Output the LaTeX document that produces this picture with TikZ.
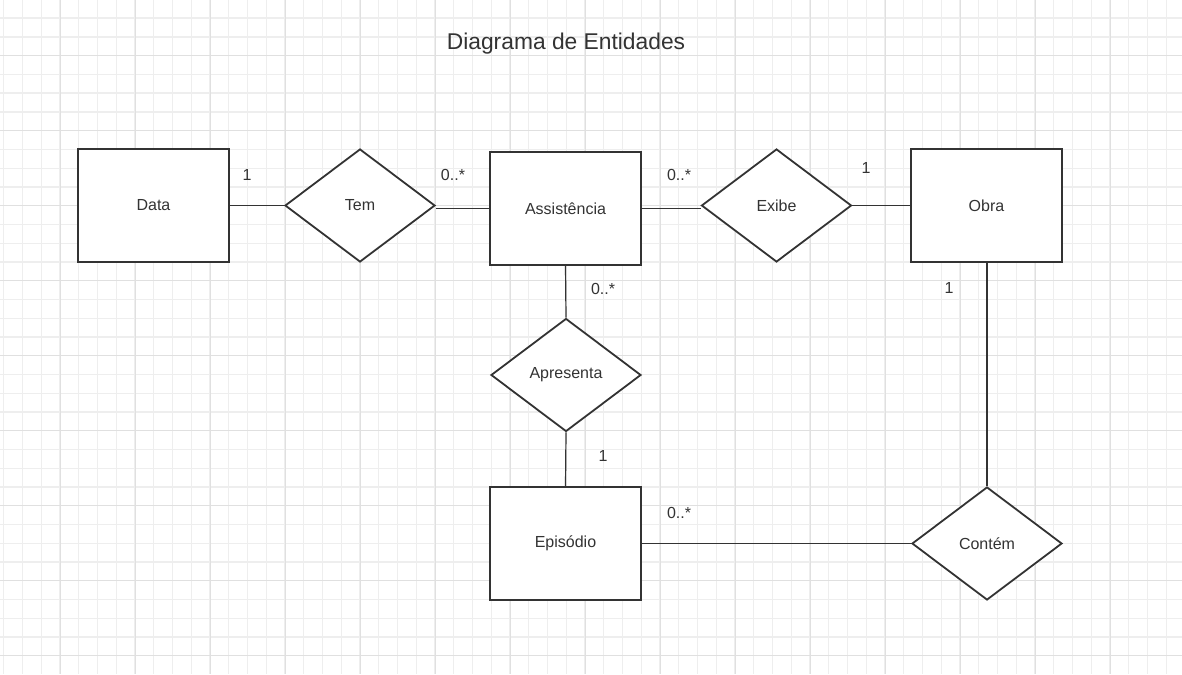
\documentclass[tikz,border=0pt]{standalone}
\usepackage{fontspec}
\setmainfont{Liberation Sans}
\usepackage{tikz}
\usetikzlibrary{shapes.geometric}

\definecolor{inkgray}{HTML}{333333}
\definecolor{gridminor}{HTML}{EEEEEE}
\definecolor{gridmajor}{HTML}{E0E0E0}

\tikzset{
  entity/.style={draw=inkgray, line width=1.8pt, fill=white, minimum width=151pt,
    minimum height=113pt, inner sep=0pt, text=inkgray, font=\fontsize{16}{18}\selectfont},
  relation/.style={diamond, draw=inkgray, line width=1.8pt, fill=white, minimum width=150pt,
    minimum height=113pt, inner sep=0pt, text=inkgray, font=\fontsize{16}{18}\selectfont},
  link/.style={draw=inkgray, line width=1.2pt},
  mult/.style={text=inkgray, inner sep=0pt, font=\fontsize{16}{18}\selectfont}
}

\begin{document}
\begin{tikzpicture}[x=1pt, y=-1pt]
  \useasboundingbox (0,0) rectangle (1182,674);
  \fill[white] (0,0) rectangle (1182,674);

  % Background grid
  \foreach \gx in {3.75,22.5,...,1182}
    \draw[gridminor, line width=1.4pt] (\gx,0) -- (\gx,674);
  \foreach \gy in {18.2,36.95,...,674}
    \draw[gridminor, line width=1.4pt] (0,\gy) -- (1182,\gy);
  \foreach \gx in {60,135,...,1182}
    \draw[gridmajor, line width=1pt] (\gx,0) -- (\gx,674);
  \foreach \gy in {55.7,130.7,...,674}
    \draw[gridmajor, line width=1pt] (0,\gy) -- (1182,\gy);

  % Title
  \node[text=inkgray, font=\fontsize{22.8}{26}\selectfont] (title) at (566,44) {Diagrama de Entidades};

  % Entities
  \node[entity] (data) at (153.5,205.5) {Data};
  \node[entity] (assist) at (565.5,208.5) {Assistência};
  \node[entity] (obra) at (986.5,205.5) {Obra};
  \node[entity] (ep) at (565.5,543.5) {Episódio};

  % Relationships
  \node[relation] (tem) at (360,205.5) {Tem};
  \node[relation] (exibe) at (776.5,205.5) {Exibe};
  \node[relation] (apres) at (566,375) {Apresenta};
  \node[relation] (contem) at (987,543.5) {Contém};

  % Connectors
  \draw[link] (data.east) -- (tem.west);
  \draw[link] (tem.east |- assist.west) -- (assist.west);
  \draw[link] (assist.east) -- (assist.east -| exibe.west);
  \draw[link] (exibe.east) -- (obra.west);
  \draw[link] (assist.south) -- (apres.north);
  \draw[link] (apres.south) -- (ep.north);
  \draw[link] (ep.east) -- (ep.east -| contem.west);
  \draw[link] (obra.south -| contem.north) -- (contem.north);

  % Multiplicities
  \node[mult] (m1) at (247,175) {1};
  \node[mult] (m2) at (453,175) {0..*};
  \node[mult] (m3) at (679,175) {0..*};
  \node[mult] (m4) at (866,168) {1};
  \node[mult] (m5) at (603,289) {0..*};
  \node[mult] (m6) at (949,288) {1};
  \node[mult] (m7) at (603,456) {1};
  \node[mult] (m8) at (679,513) {0..*};
\end{tikzpicture}
\end{document}
